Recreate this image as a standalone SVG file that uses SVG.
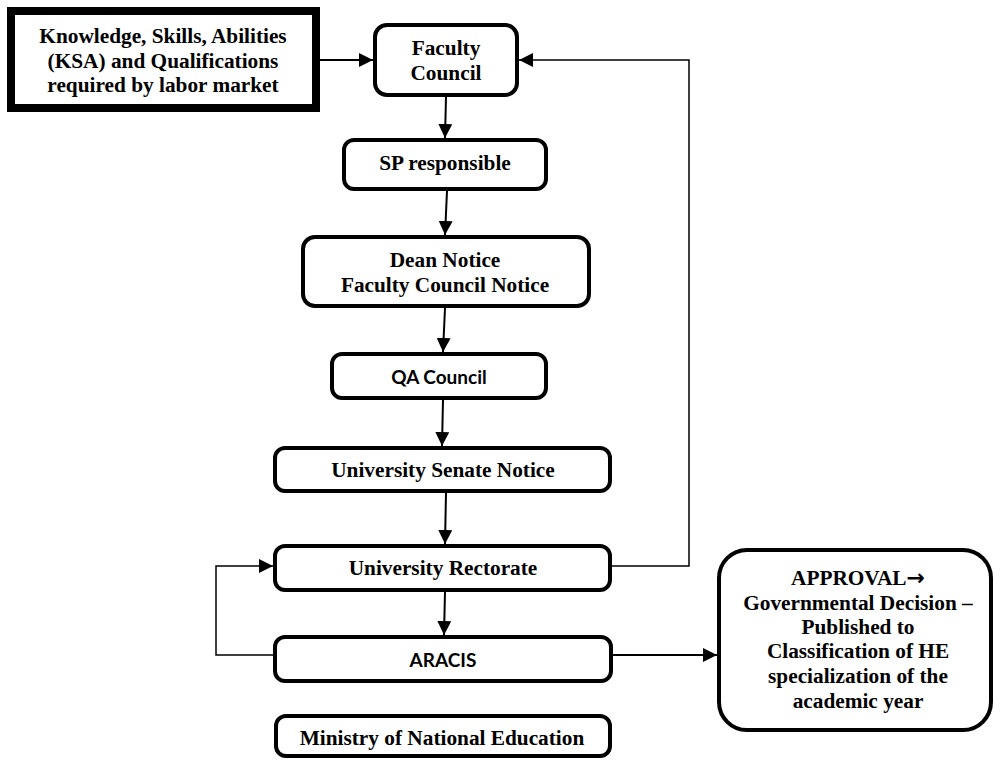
<svg xmlns="http://www.w3.org/2000/svg" width="1000" height="760" viewBox="0 0 1000 760">
  <defs>
    <marker id="arrow" markerUnits="userSpaceOnUse" markerWidth="14" markerHeight="14" refX="14" refY="7" orient="auto">
      <path d="M0,0 L14,7 L0,14 z" fill="#000"/>
    </marker>
    <style>
      .box { fill: #fff; stroke: #000; stroke-width: 4; }
      .heavy { fill: #fff; stroke: #000; stroke-width: 8; }
      .serif { font-family: "Liberation Serif", "Times New Roman", serif; font-weight: bold; font-size: 21.3px; fill: #000; text-anchor: middle; }
      .sans { font-family: Lato, "Open Sans", "Liberation Sans", sans-serif; font-weight: bold; font-size: 19px; fill: #000; text-anchor: middle; }
      .glyph { font-family: "DejaVu Sans", sans-serif; font-weight: bold; font-size: 22px; }
      .link { fill: none; stroke: #000; stroke-width: 2; marker-end: url(#arrow); }
      .loop { fill: none; stroke: #000; stroke-width: 1.5; }
    </style>
  </defs>
  <rect width="1000" height="760" fill="#fff"/>

  <!-- connectors -->
  <g id="connectors">
    <path class="link" d="M320 60 H373"/>
    <path class="loop" d="M612 566 H689 V60 H519" marker-end="url(#arrow)"/>
    <path class="link" d="M446 97 L445 138"/>
    <path class="link" d="M447 191 L445 235"/>
    <path class="link" d="M445 308 L443 352"/>
    <path class="link" d="M443 400 L442 446"/>
    <path class="link" d="M446 493 L445 544"/>
    <path class="link" d="M445 592 L444 635"/>
    <path class="loop" d="M273 655 H216 V566 H273" marker-end="url(#arrow)"/>
    <path class="link" d="M613 655 H717"/>
  </g>

  <!-- labour market input -->
  <g id="ksa">
    <rect class="heavy" x="11" y="11" width="305" height="97"/>
    <text class="serif" x="163" y="43">Knowledge, Skills, Abilities</text>
    <text class="serif" x="163" y="68">(KSA) and Qualifications</text>
    <text class="serif" x="163" y="92">required by labor market</text>
  </g>

  <g id="faculty-council">
    <rect class="box" x="375" y="25" width="142" height="70" rx="12"/>
    <text class="serif" x="446" y="55">Faculty</text>
    <text class="serif" x="446" y="80">Council</text>
  </g>

  <g id="sp-responsible">
    <rect class="box" x="344" y="140" width="202" height="49" rx="10"/>
    <text class="serif" x="445" y="170">SP responsible</text>
  </g>

  <g id="dean-notice">
    <rect class="box" x="303" y="237" width="286" height="69" rx="12"/>
    <text class="serif" x="445" y="267">Dean Notice</text>
    <text class="serif" x="445" y="292">Faculty Council Notice</text>
  </g>

  <g id="qa-council">
    <rect class="box" x="332" y="354" width="214" height="44" rx="10"/>
    <text class="sans" x="439" y="384">QA Council</text>
  </g>

  <g id="senate-notice">
    <rect class="box" x="275" y="448" width="335" height="43" rx="10"/>
    <text class="serif" x="443" y="477">University Senate Notice</text>
  </g>

  <g id="rectorate">
    <rect class="box" x="275" y="546" width="335" height="44" rx="10"/>
    <text class="serif" x="443" y="575">University Rectorate</text>
  </g>

  <g id="aracis">
    <rect class="box" x="275" y="637" width="336" height="44" rx="10"/>
    <text class="sans" x="443" y="667">ARACIS</text>
  </g>

  <g id="ministry">
    <rect class="box" x="276" y="716" width="334" height="40" rx="10"/>
    <text class="serif" x="442" y="745">Ministry of National Education</text>
  </g>

  <g id="approval">
    <rect class="box" x="719" y="550" width="272" height="180" rx="28"/>
    <text class="serif" x="858" y="585">APPROVAL<tspan class="glyph">→</tspan></text>
    <text class="serif" x="858" y="610">Governmental Decision –</text>
    <text class="serif" x="858" y="634">Published to</text>
    <text class="serif" x="858" y="658">Classification of HE</text>
    <text class="serif" x="858" y="683">specialization of the</text>
    <text class="serif" x="858" y="708">academic year</text>
  </g>
</svg>
